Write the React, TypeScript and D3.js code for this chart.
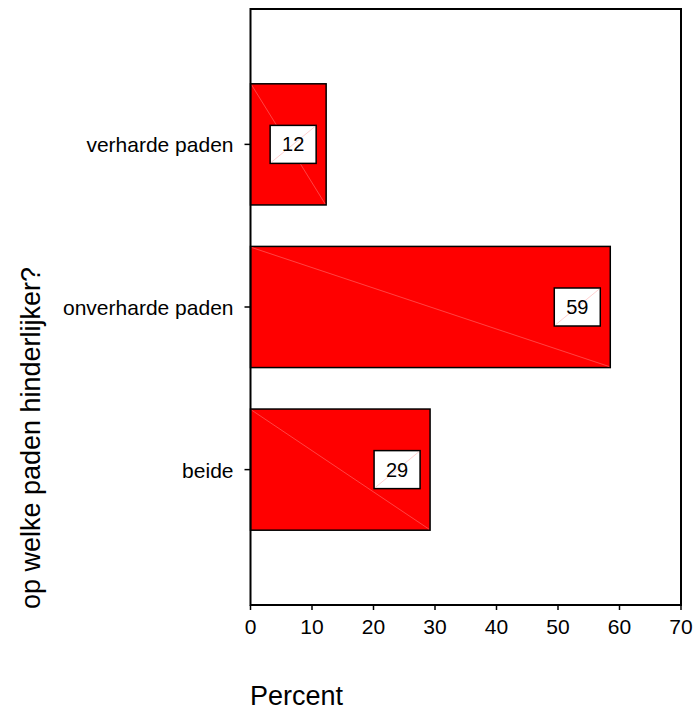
import React from "react";
import * as d3 from "d3";

const categories = ["verharde paden", "onverharde paden", "beide"];
const values = [12.3, 58.5, 29.2];
const labels = ["12", "59", "29"];
const xTicks = [0, 10, 20, 30, 40, 50, 60, 70];

export default function App() {
  const W = 696, H = 710;
  const left = 250.5, right = 681, top = 9, bottom = 605;
  const x = d3.scaleLinear().domain([0, 70]).range([left, right]);
  const y = d3.scaleBand<string>().domain(categories).range([top, bottom]).paddingInner(0.255).paddingOuter(0.46);
  const font = "Liberation Sans, Arial, sans-serif";
  return (
    <svg width={W} height={H} style={{ position: "absolute", left: 0, top: 0 }}>
      <rect x={0} y={0} width={W} height={H} fill="white" />
      {categories.map((c, i) => {
        const y0 = y(c)!;
        const bh = y.bandwidth();
        const x1 = x(values[i]);
        const cx = x1 - 33;
        const cy = y0 + bh / 2;
        const bw = 46, bhh = 38;
        return (
          <g key={c}>
            <rect x={left} y={y0} width={x1 - left} height={bh} fill="#ff0000" stroke="black" strokeWidth={1.5} />
            <line x1={left + 1} y1={y0 + 1} x2={x1 - 1} y2={y0 + bh - 1} stroke="#ff7070" strokeWidth={0.6} />
            <rect x={cx - bw / 2} y={cy - bhh / 2} width={bw} height={bhh} fill="white" stroke="black" strokeWidth={1.5} />
            <line x1={cx - bw / 2 + 1} y1={cy + bhh / 2 - 1} x2={cx + bw / 2 - 1} y2={cy - bhh / 2 + 1} stroke="#ffb0b0" strokeWidth={0.6} />
            <text x={cx} y={cy + 7} textAnchor="middle" fontFamily={font} fontSize={20} fill="black">{labels[i]}</text>
            <line x1={left - 6} x2={left} y1={cy} y2={cy} stroke="black" strokeWidth={1.5} />
            <text x={left - 17} y={cy + 8} textAnchor="end" fontFamily={font} fontSize={21} fill="black">{c}</text>
          </g>
        );
      })}
      <rect x={left} y={top} width={right - left} height={bottom - top} fill="none" stroke="black" strokeWidth={2} />
      {xTicks.map((t) => (
        <g key={t}>
          <line x1={x(t)} x2={x(t)} y1={bottom} y2={bottom + 5} stroke="black" strokeWidth={1.5} />
          <text x={x(t)} y={634} textAnchor="middle" fontFamily={font} fontSize={21} fill="black">{t}</text>
        </g>
      ))}
      <text x={250} y={705} textAnchor="start" fontFamily={font} fontSize={27} fill="black">Percent</text>
      <text transform="translate(40,438) rotate(-90)" textAnchor="middle" fontFamily={font} fontSize={27} fill="black">op welke paden hinderlijker?</text>
    </svg>
  );
}
